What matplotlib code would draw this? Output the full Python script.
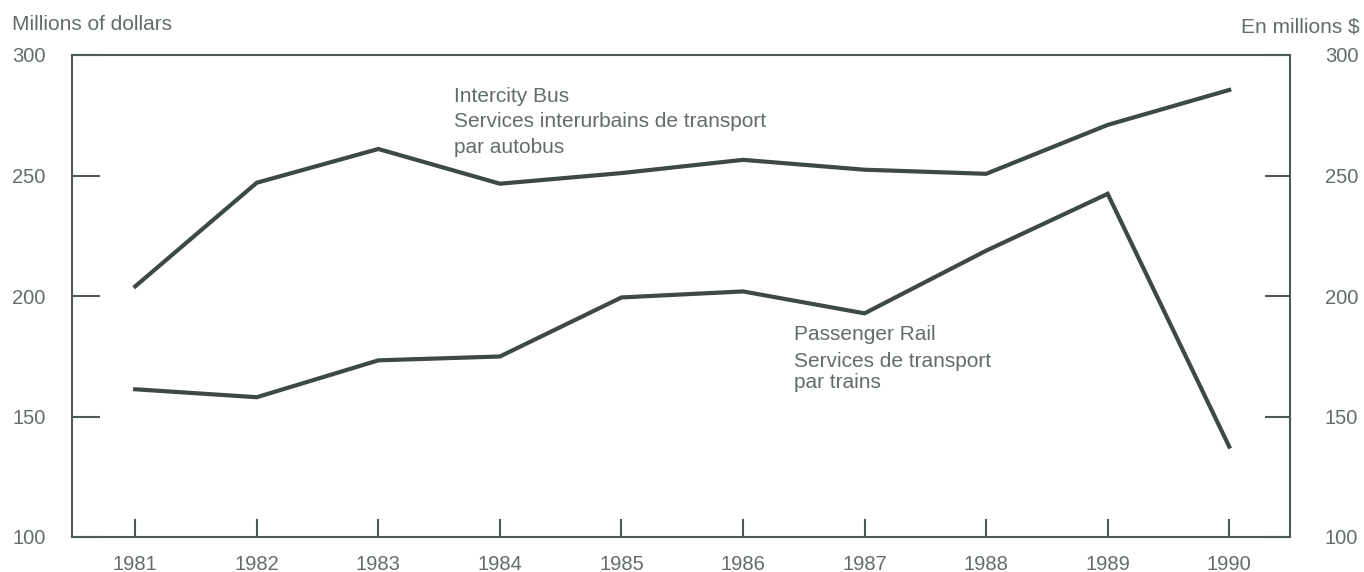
import matplotlib
matplotlib.use("Agg")
import matplotlib.pyplot as plt

years = [1981, 1982, 1983, 1984, 1985, 1986, 1987, 1988, 1989, 1990]
intercity_bus = [204, 247, 261, 246.6, 251, 256.5, 252.4, 250.7, 271, 285.5]
passenger_rail = [161.3, 158, 173.3, 174.9, 199.4, 201.9, 192.8, 218.8, 242.4, 137.5]
y_ticks = [100, 150, 200, 250, 300]

plt.rcParams['font.family'] = ['Liberation Sans', 'DejaVu Sans']

line_col = '#3d4a44'
spine_col = '#4d5a54'
text_col = '#626d68'

fig = plt.figure(figsize=(13.64, 5.72), dpi=100)
ax = fig.add_axes([72/1364, 1-537/572, (1290-72)/1364, (537-55)/572])

ax.plot(years, intercity_bus, color=line_col, lw=3, solid_joinstyle='miter')
ax.plot(years, passenger_rail, color=line_col, lw=3, solid_joinstyle='miter')

ax.set_xlim(1980.48, 1990.5)
ax.set_ylim(100, 300)
ax.set_xticks(years)
ax.set_xticklabels([str(y) for y in years])
ax.set_yticks(y_ticks)
ax.set_yticklabels([str(v) for v in y_ticks])

for s in ax.spines.values():
    s.set_color(spine_col)
    s.set_linewidth(1.5)

ax.tick_params(axis='x', direction='in', length=13, width=1.5, color=spine_col,
               labelsize=14.5, labelcolor=text_col, pad=13)
ax.tick_params(axis='y', direction='in', length=20, width=1.5, color=spine_col,
               labelsize=14.5, labelcolor=text_col, pad=19)

ax2 = ax.twinx()
ax2.set_ylim(100, 300)
ax2.set_yticks(y_ticks)
ax2.set_yticklabels([str(v) for v in y_ticks])
ax2.tick_params(axis='y', direction='in', length=18, width=1.5, color=spine_col,
                labelsize=14.5, labelcolor=text_col, pad=25)
for s in ax2.spines.values():
    s.set_visible(False)

# annotations
ax.text(1983.62, 280.5, "Intercity Bus", fontsize=15, color=text_col, va='baseline', ha='left')
ax.text(1983.62, 270.1, "Services interurbains de transport", fontsize=15, color=text_col, va='baseline', ha='left')
ax.text(1983.62, 259.3, "par autobus", fontsize=15, color=text_col, va='baseline', ha='left')

ax.text(1986.42, 181.7, "Passenger Rail", fontsize=15, color=text_col, va='baseline', ha='left')
ax.text(1986.42, 170.5, "Services de transport", fontsize=15, color=text_col, va='baseline', ha='left')
ax.text(1986.42, 161.8, "par trains", fontsize=15, color=text_col, va='baseline', ha='left')

fig.text(12/1364, 1-30/572, "Millions of dollars", fontsize=15, color=text_col, ha='left', va='baseline')
fig.text(1360/1364, 1-33/572, "En millions $", fontsize=15, color=text_col, ha='right', va='baseline')

fig.savefig("out.png", dpi=100, facecolor='white')
